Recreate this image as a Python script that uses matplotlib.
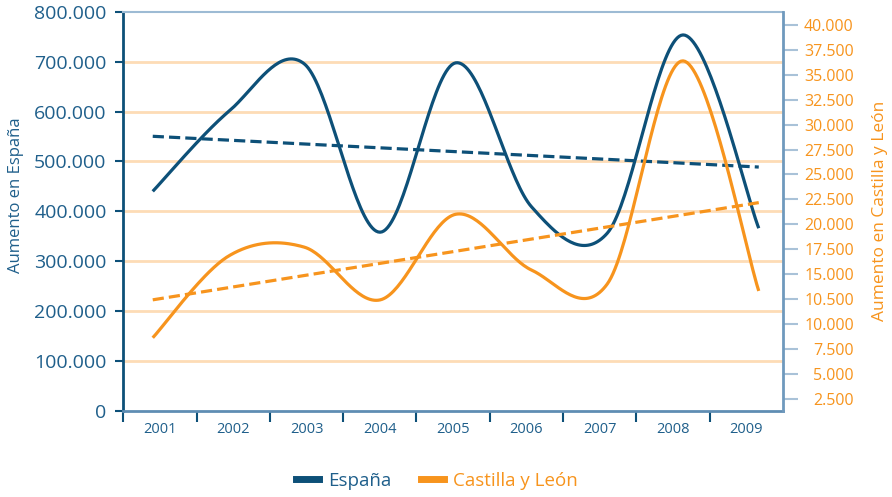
import numpy as np
import matplotlib
matplotlib.use('Agg')
import matplotlib.pyplot as plt
from matplotlib.lines import Line2D
from matplotlib.ticker import FixedLocator, FixedFormatter

plt.rcParams['font.family'] = ['Open Sans', 'DejaVu Sans']

years = ['2001', '2002', '2003', '2004', '2005', '2006', '2007', '2008', '2009']
espana = [440000, 600000, 696000, 358000, 698000, 409000, 356000, 754000, 366000]
cyl = [8600, 16800, 17700, 12400, 21000, 15400, 14000, 36400, 13300]

left_ticks = [0, 100000, 200000, 300000, 400000, 500000, 600000, 700000, 800000]
left_labels = ['0', '100.000', '200.000', '300.000', '400.000', '500.000',
               '600.000', '700.000', '800.000']
right_ticks = [2500, 5000, 7500, 10000, 12500, 15000, 17500, 20000, 22500,
               25000, 27500, 30000, 32500, 35000, 37500, 40000]
right_labels = ['2.500', '5.000', '7.500', '10.000', '10.500', '15.000', '17.500',
                '20.000', '22.500', '25.000', '27.500', '30.000', '32.500',
                '35.000', '37.500', '40.000']

BLUE = '#0d5078'
BLUE_TXT = '#1f5f8b'
ORANGE = '#f7941d'
GRID = '#fddcb6'


def smooth(y, n=40):
    # Excel-like smoothed line (Catmull-Rom as cubic Bezier)
    y = np.asarray(y, dtype=float)
    x = np.arange(len(y), dtype=float)
    xs, ys = [], []
    for i in range(len(y) - 1):
        p0 = max(i - 1, 0)
        p3 = min(i + 2, len(y) - 1)
        bx = [x[i], x[i] + (x[i + 1] - x[p0]) / 6, x[i + 1] - (x[p3] - x[i]) / 6, x[i + 1]]
        by = [y[i], y[i] + (y[i + 1] - y[p0]) / 6, y[i + 1] - (y[p3] - y[i]) / 6, y[i + 1]]
        t = np.linspace(0, 1, n)
        xs.append((1-t)**3*bx[0] + 3*(1-t)**2*t*bx[1] + 3*(1-t)*t**2*bx[2] + t**3*bx[3])
        ys.append((1-t)**3*by[0] + 3*(1-t)**2*t*by[1] + 3*(1-t)*t**2*by[2] + t**3*by[3])
    return np.concatenate(xs), np.concatenate(ys)


fig = plt.figure(figsize=(8.92, 4.97), dpi=100)
ax = fig.add_axes([0.1382, 0.174, 0.7396, 0.8018])
ax2 = ax.twinx()

idx = np.arange(len(years))

# x layout: points slightly wider spread than category boxes
x0, x1 = -0.389, 8.320
step = 0.9677
bounds = [x0 + step * k for k in range(10)]
centers = [x0 + step * (k + 0.5) for k in range(9)]
ax.set_xlim(x0, x1)

ax.set_ylim(0, 800000)
ax2.set_ylim(1295, 41305)

for v in left_ticks[1:-1]:
    ax.axhline(v, color=GRID, lw=2, zorder=0)

# series
xs, ys = smooth(espana)
ax.plot(xs, ys, color=BLUE, lw=2.3, zorder=3, solid_capstyle='butt')
xs, ys = smooth(cyl)
ax2.plot(xs, ys, color=ORANGE, lw=2.3, zorder=3, solid_capstyle='butt')

# linear trend lines
k, b = np.polyfit(idx, espana, 1)
ax.plot([idx[0], idx[-1]], [b, k * idx[-1] + b], color=BLUE, lw=2.3,
        dashes=(3.5, 1.6), zorder=3)
k, b = np.polyfit(idx, cyl, 1)
ax2.plot([idx[0], idx[-1]], [b, k * idx[-1] + b], color=ORANGE, lw=2.3,
         dashes=(3.5, 1.6), zorder=3)

# left axis
ax.yaxis.set_major_locator(FixedLocator(left_ticks))
ax.yaxis.set_major_formatter(FixedFormatter(left_labels))
ax.tick_params(axis='y', length=6, width=1.5, color=BLUE, pad=6,
               labelsize=14, labelcolor=BLUE_TXT)
ax.set_ylabel('Aumento en España', color=BLUE_TXT, fontsize=12)
ax.yaxis.set_label_coords(-0.150, 0.54)

# x axis
ax.xaxis.set_major_locator(FixedLocator(bounds))
ax.xaxis.set_major_formatter(FixedFormatter([''] * len(bounds)))
ax.xaxis.set_minor_locator(FixedLocator(centers))
ax.xaxis.set_minor_formatter(FixedFormatter(years))
ax.tick_params(axis='x', which='major', length=8, width=1.5, color=BLUE)
ax.tick_params(axis='x', which='minor', length=0, pad=8, labelsize=10.5,
               labelcolor=BLUE_TXT)

# right axis
ax2.yaxis.set_major_locator(FixedLocator(right_ticks))
ax2.yaxis.set_major_formatter(FixedFormatter(right_labels))
ax2.tick_params(axis='y', length=11, width=1.5, color='#a9c2d8', pad=40,
                labelsize=11.5, labelcolor=ORANGE)
for lab in ax2.get_yticklabels():
    lab.set_horizontalalignment('right')
ax2.set_ylabel('Aumento en Castilla y León', color=ORANGE, fontsize=12.5)
ax2.yaxis.set_label_coords(1.135, 0.5)

ax.spines['left'].set_color(BLUE)
ax.spines['left'].set_linewidth(2)
ax.spines['bottom'].set_color('#5f8db3')
ax.spines['bottom'].set_linewidth(2)
ax.spines['top'].set_color('#9dbbd4')
ax.spines['top'].set_linewidth(1.5)
ax.spines['right'].set_visible(False)
for s in ['left', 'bottom', 'top']:
    ax2.spines[s].set_visible(False)
ax2.spines['right'].set_color('#6f99bd')
ax2.spines['right'].set_linewidth(2)

handles = [Line2D([], [], color=BLUE, lw=5), Line2D([], [], color=ORANGE, lw=5)]
leg = fig.legend(handles, ['España', 'Castilla y León'], loc='center',
                 bbox_to_anchor=(0.49, 0.033), ncol=2, frameon=False,
                 fontsize=13.5, handlelength=1.2, handletextpad=0.5,
                 columnspacing=1.6)
leg.get_texts()[0].set_color(BLUE_TXT)
leg.get_texts()[1].set_color(ORANGE)

fig.savefig('out.png', dpi=100)
